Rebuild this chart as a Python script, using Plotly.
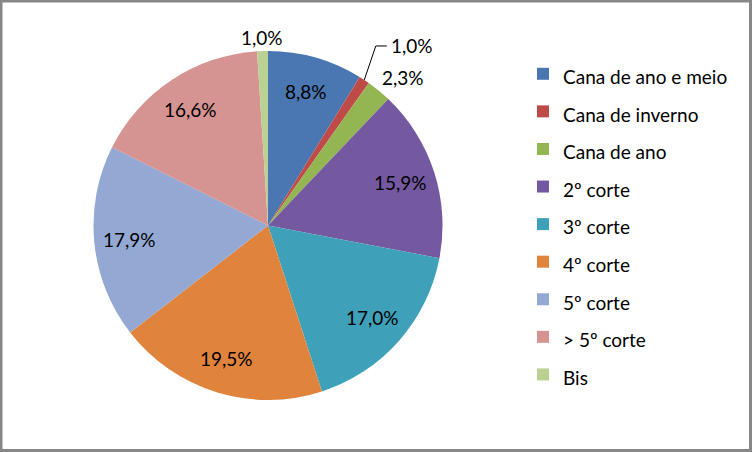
import math
import plotly.graph_objects as go

categories = ["Cana de ano e meio", "Cana de inverno", "Cana de ano", "2º corte",
              "3º corte", "4º corte", "5º corte", "> 5º corte", "Bis"]
values = [8.8, 1.0, 2.3, 15.9, 17.0, 19.5, 17.9, 16.6, 1.0]
colors = ["#4A76B2", "#BE4B48", "#93B652", "#7458A0", "#3FA1B9",
          "#E0833D", "#93A9D4", "#D59392", "#BBD093"]

W, H = 752, 452
FONT = "Lato"
LBL_SIZE = 19

# pie geometry (pixels)
CX, CY, R = 268, 225.5, 174.5
dom_x = [(CX - R) / W, (CX + R) / W]
dom_y = [(H - (CY + R)) / H, (H - (CY - R)) / H]

fig = go.Figure()
fig.add_trace(go.Pie(
    labels=[f'<span style="font-size:{LBL_SIZE}px">{c}</span>' for c in categories],
    values=values,
    marker=dict(colors=colors, line=dict(width=0)),
    sort=False, direction="clockwise", rotation=0,
    textinfo="none", hoverinfo="label+percent",
    domain=dict(x=dom_x, y=dom_y),
))

def fmt(v):
    return f"{v:.1f}".replace(".", ",") + "%"

# label placement style: radial factor, angle tweak (deg)
place = {1: (1.2, -2.5), 2: (1.15, 3.0), 8: (1.08, 0.0)}

total = sum(values)
cum = 0.0
annotations = []
shapes = []
for i, v in enumerate(values):
    mid = (cum + v / 2) / total * 2 * math.pi
    cum += v
    f, dth = place.get(i, (0.8, 0.0))
    th = mid + math.radians(dth)
    px = CX + f * R * math.sin(th)
    py = CY - f * R * math.cos(th)
    if i == 1:
        sx = CX + R * math.sin(mid)
        sy = CY - R * math.cos(mid)
        ex = px + 11
        shapes.append(dict(
            type="path", xref="paper", yref="paper",
            path=f"M {sx / W} {1 - sy / H} L {px / W} {1 - py / H} L {ex / W} {1 - py / H}",
            line=dict(color="#000000", width=1)))
        annotations.append(dict(x=(ex + 2) / W, y=1 - py / H, xref="paper", yref="paper",
                                text=fmt(v), showarrow=False, xanchor="left", yanchor="middle",
                                font=dict(family=FONT, size=LBL_SIZE, color="#000000")))
    else:
        annotations.append(dict(x=px / W, y=1 - py / H, xref="paper", yref="paper",
                                text=fmt(v), showarrow=False, xanchor="center", yanchor="middle",
                                font=dict(family=FONT, size=LBL_SIZE, color="#000000")))

# chart border
shapes.append(dict(type="rect", xref="paper", yref="paper",
                   x0=1 / W, x1=1 - 1.5 / W, y0=1.5 / H, y1=1 - 1 / H,
                   line=dict(color="#878787", width=3), fillcolor="rgba(0,0,0,0)"))

fig.update_layout(
    width=W, height=H,
    margin=dict(l=0, r=0, t=0, b=0),
    paper_bgcolor="#FFFFFF",
    font=dict(family=FONT, color="#000000"),
    showlegend=True,
    legend=dict(x=523 / W, y=1 - 50 / H, xanchor="left", yanchor="top",
                font=dict(family=FONT, size=26.6, color="#000000"),
                itemwidth=30, bgcolor="rgba(0,0,0,0)", traceorder="normal"),
    annotations=annotations,
    shapes=shapes,
)

fig.write_html("out.html")
